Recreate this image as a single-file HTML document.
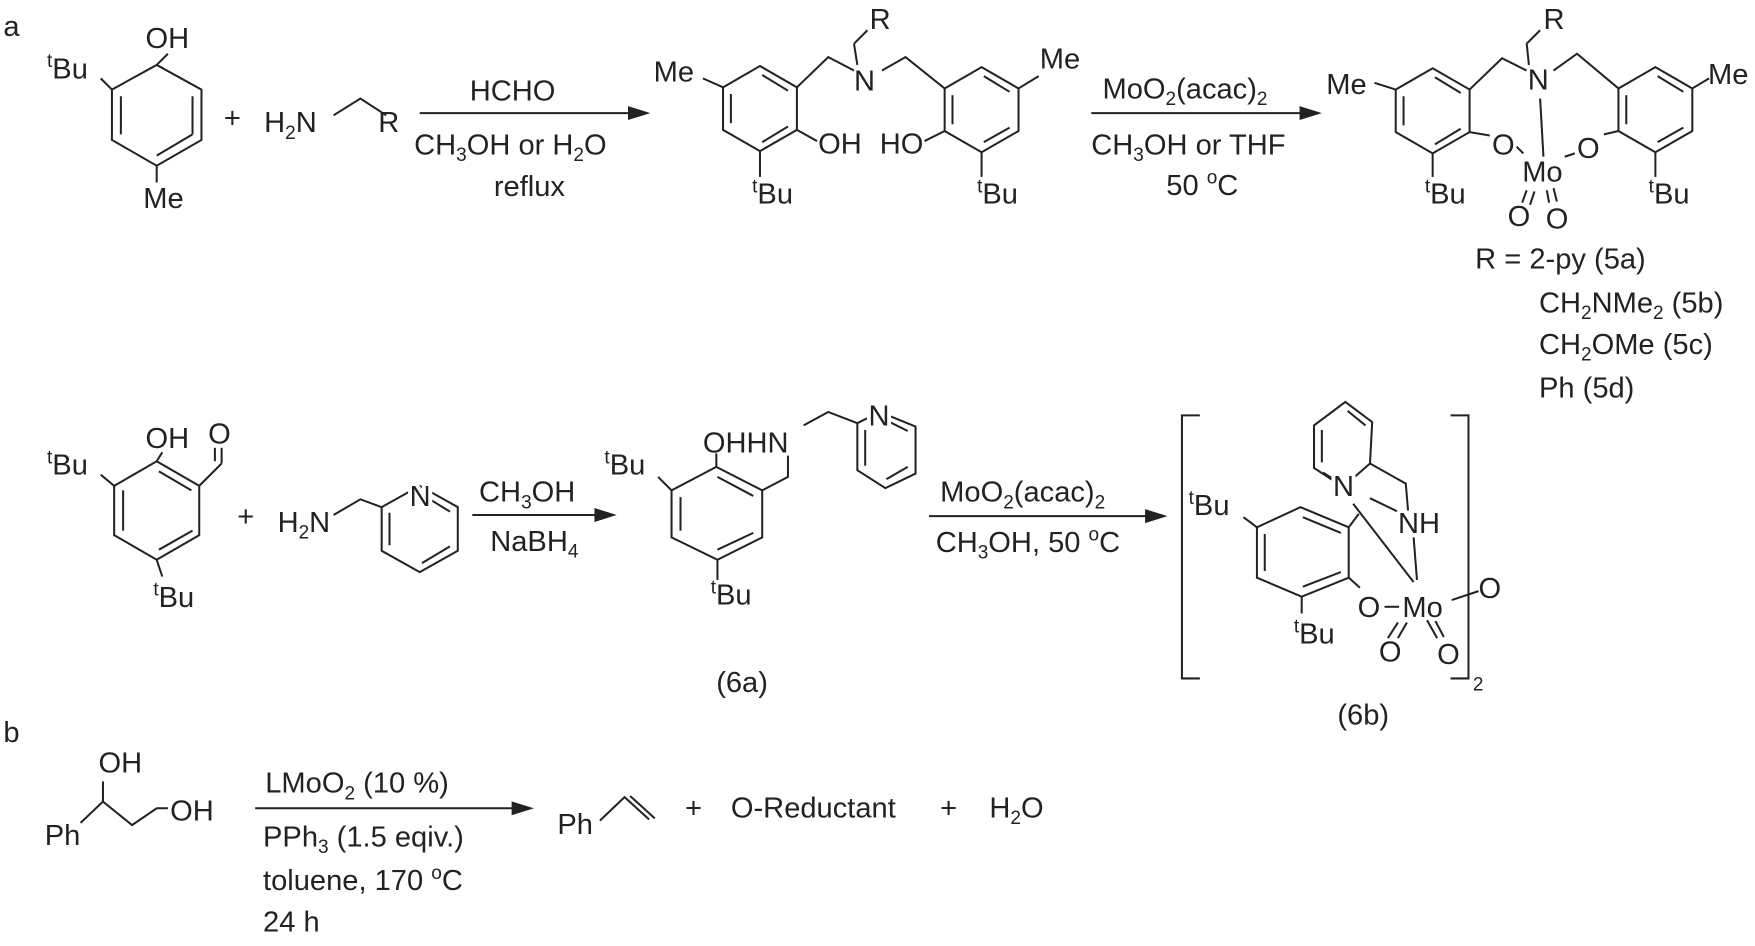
<!DOCTYPE html>
<html><head><meta charset="utf-8"><style>
html,body{margin:0;padding:0;background:#fff;}
svg{display:block;}
text{font-family:"Liberation Sans",Arial,sans-serif;font-size:26px;fill:#222;}
.s{font-size:17px;}
.a{paint-order:stroke;stroke:#fff;stroke-width:7px;stroke-linejoin:round;}
</style></head><body>
<svg width="1755" height="946" viewBox="0 0 1568 845" preserveAspectRatio="none" xmlns="http://www.w3.org/2000/svg">
<g stroke="#222" stroke-width="1.8" fill="none">
<!-- mol 1 -->
<polygon points="140,58 180,80 180,125 140,148 100,125 100,80"/>
<line x1="172" y1="86" x2="172" y2="120"/><line x1="108" y1="86" x2="108" y2="120"/><line x1="140" y1="139" x2="172" y2="120"/>
<line x1="140" y1="58" x2="150" y2="48"/><line x1="100" y1="80" x2="90" y2="70"/><line x1="140" y1="148" x2="140" y2="163"/>
<polyline points="298,103 322,88 345,103"/>
<line x1="375" y1="101" x2="568" y2="101"/><polygon points="578,101 562,96 562,106" fill="#222"/>
<!-- ligand 5 -->
<polygon points="679,59 712,78 712,116 679,135 646,116 646,78"/>
<line x1="681" y1="67" x2="704" y2="81"/><line x1="653" y1="84" x2="653" y2="110"/><line x1="681" y1="127" x2="704" y2="113"/>
<line x1="646" y1="78" x2="628" y2="70"/><line x1="712" y1="116" x2="730" y2="126"/><line x1="679" y1="135" x2="679" y2="158"/>
<polyline points="712,78 740,51 763,63"/><polyline points="763,39 775,27"/><line x1="766" y1="58" x2="763" y2="39"/>
<polyline points="788,63 809,51 844,79"/>
<polygon points="877,60 910,79 910,117 877,136 844,117 844,79"/>
<line x1="851" y1="85" x2="851" y2="111"/><line x1="879" y1="68" x2="902" y2="82"/><line x1="902" y1="114" x2="879" y2="127"/>
<line x1="910" y1="79" x2="928" y2="68"/><line x1="844" y1="117" x2="826" y2="126"/><line x1="877" y1="136" x2="877" y2="158"/>
<line x1="975" y1="101" x2="1168" y2="101"/><polygon points="1178,101 1162,96 1162,106" fill="#222"/>
<!-- complex 5 -->
<polygon points="1280,61 1313,80 1313,118 1280,137 1247,118 1247,80"/>
<line x1="1282" y1="69" x2="1305" y2="83"/><line x1="1254" y1="86" x2="1254" y2="112"/><line x1="1282" y1="129" x2="1305" y2="115"/>
<line x1="1247" y1="80" x2="1228" y2="74"/><line x1="1280" y1="137" x2="1280" y2="158"/>
<polyline points="1313,80 1342,52 1364,63"/><line x1="1366" y1="58" x2="1364" y2="39"/><line x1="1364" y1="39" x2="1376" y2="27"/>
<polyline points="1388,63 1409,48 1446,79"/>
<line x1="1313" y1="118" x2="1331" y2="121"/>
<line x1="1355" y1="131" x2="1361" y2="137"/>
<line x1="1376" y1="88" x2="1379" y2="140"/>
<line x1="1398" y1="140" x2="1407" y2="137"/>
<line x1="1446" y1="117" x2="1433" y2="120"/>
<line x1="1364" y1="170" x2="1360" y2="181"/><line x1="1371" y1="171" x2="1367" y2="183"/>
<line x1="1382" y1="170" x2="1384" y2="181"/><line x1="1388" y1="168" x2="1391" y2="180"/>
<polygon points="1479,60 1512,79 1512,117 1479,136 1446,117 1446,79"/>
<line x1="1453" y1="85" x2="1453" y2="111"/><line x1="1481" y1="68" x2="1504" y2="82"/><line x1="1504" y1="114" x2="1481" y2="127"/>
<line x1="1512" y1="79" x2="1527" y2="70"/><line x1="1479" y1="136" x2="1479" y2="158"/>
<!-- row 2 mol -->
<polygon points="140,412 178,434 178,478 140,500 102,478 102,434"/>
<line x1="110" y1="438" x2="110" y2="474"/><line x1="172" y1="474" x2="142" y2="491"/><line x1="142" y1="421" x2="171" y2="438"/>
<line x1="140" y1="412" x2="145" y2="404"/><line x1="102" y1="434" x2="90" y2="424"/><line x1="140" y1="500" x2="145" y2="515"/>
<line x1="178" y1="434" x2="198" y2="414"/><line x1="198" y1="414" x2="198" y2="400"/><line x1="192" y1="412" x2="192" y2="400"/>
<polyline points="298,460 322,446 341,453"/>
<polygon points="375,434 409,453 409,492 375,511 341,492 341,453"/>
<line x1="348" y1="458" x2="348" y2="487"/><line x1="377" y1="503" x2="402" y2="488"/><line x1="384" y1="446" x2="402" y2="457"/>
<line x1="422" y1="460" x2="538" y2="460"/><polygon points="548,460 532,455 532,465" fill="#222"/>
<!-- 6a -->
<polygon points="640,417 681,438 681,480 641,500 600,480 600,438"/>
<line x1="608" y1="444" x2="608" y2="474"/><line x1="641" y1="426" x2="673" y2="443"/><line x1="641" y1="491" x2="673" y2="476"/>
<line x1="600" y1="438" x2="588" y2="426"/><line x1="641" y1="500" x2="641" y2="518"/><line x1="640" y1="417" x2="640" y2="405"/>
<polyline points="681,438 704,426 704,407"/><polyline points="718,380 740,368 766,378"/>
<polygon points="786,368 818,381 818,423 791,436 766,420 766,378"/>
<line x1="773" y1="384" x2="773" y2="416"/><line x1="792" y1="428" x2="811" y2="417"/><line x1="795" y1="377" x2="811" y2="385"/>
<line x1="830" y1="461" x2="1030" y2="461"/><polygon points="1040,461 1024,456 1024,466" fill="#222"/>
<!-- brackets -->
<polyline points="1072,371 1056,371 1056,606 1072,606"/><polyline points="1296,371 1312,371 1312,606 1296,606"/>
<!-- 6b -->
<polygon points="1202,359 1226,377 1224,414 1200,435 1174,418 1174,380"/>
<line x1="1181" y1="384" x2="1181" y2="413"/><line x1="1204" y1="367" x2="1220" y2="380"/><line x1="1182" y1="422" x2="1196" y2="431"/>
<polyline points="1224,414 1256,432 1258,456"/>
<polygon points="1162,453 1205,471 1205,516 1163,533 1123,516 1123,471"/>
<line x1="1130" y1="477" x2="1130" y2="510"/><line x1="1164" y1="462" x2="1198" y2="476"/><line x1="1164" y1="524" x2="1198" y2="511"/>
<line x1="1123" y1="471" x2="1111" y2="462"/><line x1="1163" y1="533" x2="1163" y2="548"/>
<line x1="1205" y1="471" x2="1214" y2="459"/><line x1="1224" y1="445" x2="1253" y2="459"/>
<line x1="1209" y1="450" x2="1263" y2="520"/><line x1="1263" y1="480" x2="1266" y2="518"/>
<line x1="1205" y1="516" x2="1215" y2="525"/>
<line x1="1237" y1="542" x2="1250" y2="542"/>
<line x1="1297" y1="536" x2="1321" y2="528"/>
<line x1="1249" y1="556" x2="1240" y2="570"/><line x1="1257" y1="556" x2="1249" y2="570"/>
<line x1="1275" y1="554" x2="1284" y2="570"/><line x1="1281" y1="552" x2="1290" y2="569"/>
<!-- b -->
<polyline points="72,735 92,716 118,737 140,722 150,722"/><line x1="92" y1="716" x2="92" y2="698"/>
<line x1="228" y1="722" x2="464" y2="722"/><polygon points="474,722 458,717 458,727" fill="#222"/>
<polyline points="536,733 558,712 580,732"/><line x1="563" y1="711" x2="585" y2="731"/>
</g>
<text x="3" y="32">a</text>
<text x="42" y="70"><tspan class="s" dy="-10">t</tspan><tspan dy="10">Bu</tspan></text>
<text x="130" y="43">OH</text>
<text x="128" y="186">Me</text>
<text x="200" y="114">+</text>
<text x="236" y="118">H<tspan class="s" dy="6">2</tspan><tspan dy="-6">N</tspan></text>
<text x="338" y="118">R</text>
<text x="458" y="90" text-anchor="middle">HCHO</text>
<text x="370" y="138">CH<tspan class="s" dy="6">3</tspan><tspan dy="-6">OH or H</tspan><tspan class="s" dy="6">2</tspan><tspan dy="-6">O</tspan></text>
<text x="473" y="175" text-anchor="middle">reflux</text>
<text x="584" y="73">Me</text>
<text x="763" y="81">N</text><text x="777" y="26">R</text>
<text x="731" y="137">OH</text><text x="786" y="137">HO</text>
<text x="672" y="182"><tspan class="s" dy="-10">t</tspan><tspan dy="10">Bu</tspan></text>
<text x="873" y="182"><tspan class="s" dy="-10">t</tspan><tspan dy="10">Bu</tspan></text>
<text x="929" y="61">Me</text>
<text x="985" y="88">MoO<tspan class="s" dy="6">2</tspan><tspan dy="-6">(acac)</tspan><tspan class="s" dy="6">2</tspan></text>
<text x="975" y="138">CH<tspan class="s" dy="6">3</tspan><tspan dy="-6">OH or THF</tspan></text>
<text x="1042" y="174">50 <tspan class="s" dy="-10">o</tspan><tspan dy="10">C</tspan></text>
<text x="1185" y="84">Me</text>
<text x="1365" y="80">N</text><text x="1379" y="26">R</text>
<text x="1333" y="138">O</text><text x="1409" y="141">O</text>
<text x="1360" y="162">Mo</text>
<text x="1347" y="202">O</text><text x="1381" y="204">O</text>
<text x="1273" y="182"><tspan class="s" dy="-10">t</tspan><tspan dy="10">Bu</tspan></text>
<text x="1473" y="182"><tspan class="s" dy="-10">t</tspan><tspan dy="10">Bu</tspan></text>
<text x="1526" y="75">Me</text>
<text x="1318" y="240">R = 2-py (5a)</text>
<text x="1375" y="279">CH<tspan class="s" dy="6">2</tspan><tspan dy="-6">NMe</tspan><tspan class="s" dy="6">2</tspan><tspan dy="-6"> (5b)</tspan></text>
<text x="1375" y="316">CH<tspan class="s" dy="6">2</tspan><tspan dy="-6">OMe (5c)</tspan></text>
<text x="1375" y="355">Ph (5d)</text>
<text x="42" y="424"><tspan class="s" dy="-10">t</tspan><tspan dy="10">Bu</tspan></text>
<text x="130" y="400">OH</text><text x="186" y="396">O</text>
<text x="137" y="542"><tspan class="s" dy="-10">t</tspan><tspan dy="10">Bu</tspan></text>
<text x="212" y="470">+</text>
<text x="248" y="475">H<tspan class="s" dy="6">2</tspan><tspan dy="-6">N</tspan></text>
<text x="366" y="452" class="a">N</text>
<text x="428" y="448">CH<tspan class="s" dy="6">3</tspan><tspan dy="-6">OH</tspan></text>
<text x="438" y="492">NaBH<tspan class="s" dy="6">4</tspan></text>
<text x="540" y="424"><tspan class="s" dy="-10">t</tspan><tspan dy="10">Bu</tspan></text>
<text x="628" y="404">OHHN</text><text x="776" y="380" class="a">N</text>
<text x="635" y="540"><tspan class="s" dy="-10">t</tspan><tspan dy="10">Bu</tspan></text>
<text x="663" y="618" text-anchor="middle">(6a)</text>
<text x="840" y="448">MoO<tspan class="s" dy="6">2</tspan><tspan dy="-6">(acac)</tspan><tspan class="s" dy="6">2</tspan></text>
<text x="836" y="493">CH<tspan class="s" dy="6">3</tspan><tspan dy="-6">OH, 50 </tspan><tspan class="s" dy="-10">o</tspan><tspan dy="10">C</tspan></text>
<text x="1062" y="460"><tspan class="s" dy="-10">t</tspan><tspan dy="10">Bu</tspan></text>
<text x="1191" y="443" class="a">N</text><text x="1249" y="476" class="a">NH</text>
<text x="1213" y="551">O</text><text x="1253" y="551" class="a">Mo</text><text x="1321" y="534">O</text>
<text x="1232" y="591">O</text><text x="1284" y="593">O</text>
<text x="1156" y="575"><tspan class="s" dy="-10">t</tspan><tspan dy="10">Bu</tspan></text>
<text x="1316" y="617" class="s">2</text>
<text x="1218" y="647" text-anchor="middle">(6b)</text>
<text x="3" y="663">b</text>
<text x="88" y="690">OH</text><text x="152" y="733">OH</text><text x="40" y="755">Ph</text>
<text x="237" y="708">LMoO<tspan class="s" dy="6">2</tspan><tspan dy="-6"> (10 %)</tspan></text>
<text x="235" y="756">PPh<tspan class="s" dy="6">3</tspan><tspan dy="-6"> (1.5 eqiv.)</tspan></text>
<text x="235" y="795">toluene, 170 <tspan class="s" dy="-10">o</tspan><tspan dy="10">C</tspan></text>
<text x="235" y="832">24 h</text>
<text x="498" y="745">Ph</text>
<text x="612" y="730">+</text>
<text x="653" y="730">O-Reductant</text>
<text x="840" y="730">+</text>
<text x="884" y="730">H<tspan class="s" dy="6">2</tspan><tspan dy="-6">O</tspan></text>
</svg>
</body></html>
